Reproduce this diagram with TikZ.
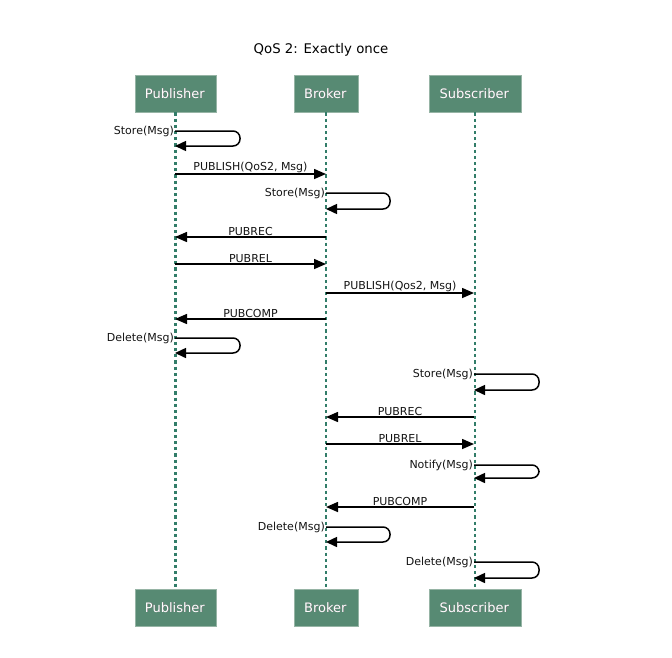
\documentclass[tikz,border=0pt]{standalone}
\usepackage{fontspec}
\setmainfont{DejaVu Sans}
\usetikzlibrary{arrows.meta,shadows}
\definecolor{boxgreen}{RGB}{87,138,115}
\definecolor{boxedge}{RGB}{150,180,165}
\definecolor{lifegreen}{RGB}{50,125,105}
\definecolor{txt}{RGB}{20,20,20}
\tikzset{
  actor/.style={draw=boxedge, line width=0.8pt, fill=boxgreen, minimum width=81pt, minimum height=37pt, inner sep=0pt,
    font=\fontsize{13}{15}\selectfont},
  lifeline/.style={lifegreen, line width=2.6pt, dash pattern=on 3.2pt off 3pt},
  msg/.style={line width=1.5pt, black, -{Triangle[length=12pt,width=10pt]}},
  lbl/.style={font=\fontsize{11}{12}\selectfont, text=txt, inner sep=1pt},
  selfloop/.style={line width=1.5pt, black, rounded corners=7pt, -{Triangle[length=11pt,width=10pt]}}
}
\newcommand{\actortext}[1]{\textcolor{black!70}{\phantom{#1}}\llap{\textcolor{black!55}{\raisebox{-0.7pt}{\kern0.7pt#1}}}\llap{\textcolor{white}{#1\kern0.7pt}}}
\begin{document}
\begin{tikzpicture}[x=1pt,y=-1pt]
\useasboundingbox (0,0) rectangle (672,657);
\node[font=\fontsize{13.3}{15}\selectfont, text=black] (title) at (321,50) {QoS 2: Exactly once};
% actors
\node[actor, minimum width=81pt] (pt) at (175.5,93.5) {\actortext{Publisher}};
\node[actor, minimum width=64pt] (bt) at (326,93.5) {\actortext{Broker}};
\node[actor, minimum width=92pt] (st) at (475,93.5) {\actortext{Subscriber}};
\node[actor, minimum width=81pt] (pb) at (175.5,607.5) {\actortext{Publisher}};
\node[actor, minimum width=64pt] (bb) at (326,607.5) {\actortext{Broker}};
\node[actor, minimum width=92pt] (sb) at (475,607.5) {\actortext{Subscriber}};
% lifelines
\draw[lifeline] (pt.south) -- (pb.north);
\draw[lifeline] (bt.south) -- (bb.north);
\draw[lifeline] (st.south) -- (sb.north);
% coordinates on lifelines
\foreach \n/\y in {1/131,2/146,3/174,8/237,9/264,12/319,13/338,14/353} \coordinate (p\n) at (175,\y);
\foreach \n/\y in {3/174,4/193,5/209,8/237,9/264,11/293,12/319,17/417,18/444,21/507,22/527,23/542} \coordinate (b\n) at (326,\y);
\foreach \n/\y in {11/293,15/374,16/390,17/417,18/444,19/465,20/478,21/507,24/562,25/578} \coordinate (s\n) at (474,\y);
% self loops
\draw[selfloop] (p1) -- (240,131) -- (240,146) -- (p2);
\node[lbl, anchor=east] (l1) at (p1) {Store(Msg)};
\draw[selfloop] (b4) -- (390,193) -- (390,209) -- (b5);
\node[lbl, anchor=east] (l4) at (b4) {Store(Msg)};
\draw[selfloop] (p13) -- (240,338) -- (240,353) -- (p14);
\node[lbl, anchor=east] (l13) at (p13) {Delete(Msg)};
\draw[selfloop] (s15) -- (539,374) -- (539,390) -- (s16);
\node[lbl, anchor=east] (l15) at (s15) {Store(Msg)};
\draw[selfloop] (s19) -- (539,465) -- (539,478) -- (s20);
\node[lbl, anchor=east] (l19) at (s19) {Notify(Msg)};
\draw[selfloop] (b22) -- (390,527) -- (390,542) -- (b23);
\node[lbl, anchor=east] (l22) at (b22) {Delete(Msg)};
\draw[selfloop] (s24) -- (539,562) -- (539,578) -- (s25);
\node[lbl, anchor=east] (l24) at (s24) {Delete(Msg)};
% messages
\draw[msg] (p3) -- node[lbl, above=-0.5pt] {PUBLISH(QoS2, Msg)} (b3);
\draw[msg] (b8) -- node[lbl, above=-0.5pt] {PUBREC} (p8);
\draw[msg] (p9) -- node[lbl, above=-0.5pt] {PUBREL} (b9);
\draw[msg] (b11) -- node[lbl, above=-0.5pt] {PUBLISH(Qos2, Msg)} (s11);
\draw[msg] (b12) -- node[lbl, above=-0.5pt] {PUBCOMP} (p12);
\draw[msg] (s17) -- node[lbl, above=-0.5pt] {PUBREC} (b17);
\draw[msg] (b18) -- node[lbl, above=-0.5pt] {PUBREL} (s18);
\draw[msg] (s21) -- node[lbl, above=-0.5pt] {PUBCOMP} (b21);
\end{tikzpicture}
\end{document}
